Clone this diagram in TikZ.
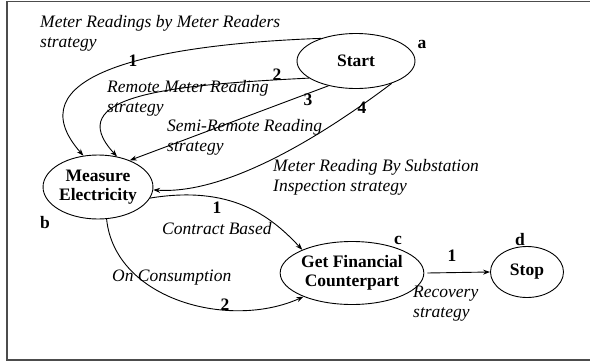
\documentclass[tikz,border=0pt]{standalone}
\usepackage{fontspec}
\setmainfont{Liberation Serif}
\usepackage{tikz}
\usetikzlibrary{shapes.geometric, arrows.meta}

\begin{document}
\begin{tikzpicture}[x=1pt,y=-1pt]
\tikzstyle{state} = [ellipse,draw,line width=0.9pt,inner sep=0pt,align=center,font=\fontsize{17.5}{19}\selectfont\bfseries]
\tikzstyle{lbl} = [anchor=west,inner sep=0pt,align=left,font=\fontsize{17.5}{20}\selectfont\itshape]
\tikzstyle{num} = [inner sep=0pt,font=\fontsize{17.5}{20}\selectfont\bfseries]
\tikzstyle{arrow} = [line width=0.9pt,->,>={Stealth[length=7pt,width=5pt]}]

\useasboundingbox (0,0) rectangle (590,362);

%Frame round the picture (open on the right)
\draw[black!70,line width=1.6pt] (590,1.5) -- (7,1.5) -- (7,360) -- (590,360);

%The four states:
\node[state,minimum width=118,minimum height=55] (start) at (356,61) {Start};
\node[state,minimum width=97,minimum height=64] (measure) at (98,187) {Measure\\Electricity};
\node[state,minimum width=135,minimum height=63] (money) at (352,273) {Get Financial\\Counterpart};
\node[state,minimum width=73,minimum height=51] (stop) at (527,272) {Stop};

%State letters
\node[num] (a) at (422,44) {a};
\node[num] (b) at (45,223) {b};
\node[num] (c) at (398,240) {c};
\node[num] (d) at (520,240) {d};

%Reading strategies from Start to Measure Electricity:
\draw[arrow] (start.147) .. controls (140,45) and (15,78) .. (measure.115);
\draw[arrow] (start.200) .. controls (170,85) and (60,95) .. (measure.58);
\draw[arrow] (start.222) -- (measure.40);
\draw[arrow] (start.328) .. controls (330,130) and (230,195) .. (measure.357);

\node[num] (n1) at (133,61) {1};
\node[num] (n2) at (277,75) {2};
\node[num] (n3) at (308,100) {3};
\node[num] (n4) at (362,108) {4};

\node[lbl] (readers) at (40,33.5) {Meter Readings by Meter Readers\\strategy};
\node[lbl] (remote) at (107,98.5) {Remote Meter Reading\\strategy};
\node[lbl] (semi) at (167,137) {Semi-Remote Reading\\strategy};
\node[lbl] (substation) at (273,177) {Meter Reading By Substation\\Inspection strategy};

%Payment from Measure Electricity to Get Financial Counterpart:
\draw[arrow] (measure.348) .. controls (230,185) and (270,215) .. (money.155);
\draw[arrow] (measure.285) .. controls (115,300) and (230,330) .. (money.206);

\node[num] (m1) at (217,208) {1};
\node[lbl] (contract) at (162,229) {Contract Based};
\node[num] (m2) at (225,305) {2};
\node[lbl] (consumption) at (112,278) {On Consumption};

%Recovery to Stop
\draw[arrow] ([xshift=3pt]money.east) -- (stop.west);
\node[num] (r1) at (452,256) {1};
\node[lbl] (recovery) at (413,303.5) {Recovery\\strategy};

\end{tikzpicture}
\end{document}
